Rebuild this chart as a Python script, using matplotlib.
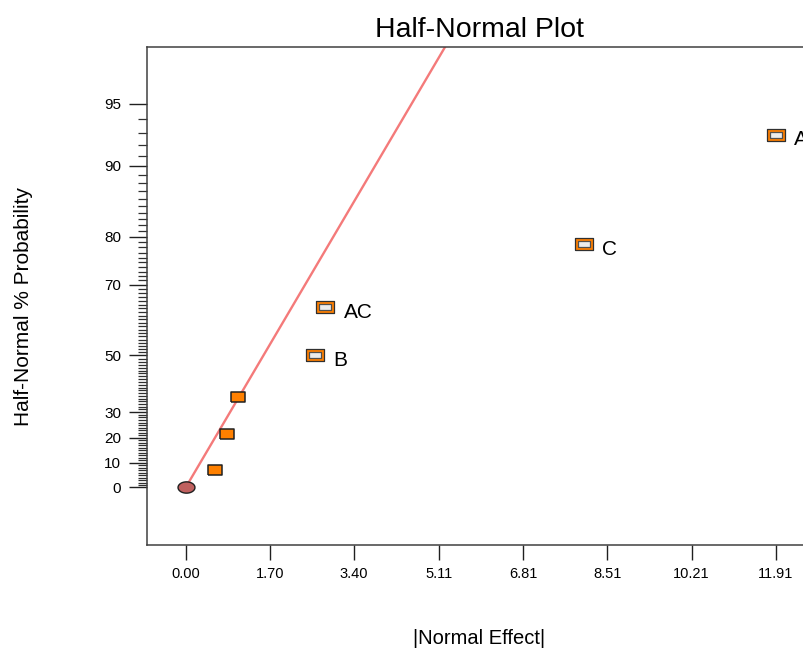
import numpy as np
import matplotlib
matplotlib.use('Agg')
import matplotlib.pyplot as plt
from statistics import NormalDist

plt.rcParams['font.family'] = ['Liberation Sans', 'DejaVu Sans']

# effects (absolute) and half-normal probabilities
effect_size = [0.59, 0.84, 1.06, 2.61, 2.82, 8.03, 11.91]
effect_prob = [7.14, 21.43, 35.71, 50.0, 64.29, 78.57, 92.86]
effect_label = ['', '', '', 'B', 'AC', 'C', 'A']

# origin point and fitted line through the small effects
origin_effect = 0.0
origin_prob = 0.0
fit_effect = [0.0, 6.0]
fit_slope = 0.43   # half-normal quantile per unit effect

x_ticks = [0.00, 1.70, 3.40, 5.11, 6.81, 8.51, 10.21, 11.91]
y_ticks = [0, 10, 20, 30, 50, 70, 80, 90, 95]

nd = NormalDist()


def hn(p):
    # half-normal quantile of a percent probability
    return nd.inv_cdf(0.5 + p / 200.0)


W, H = 804, 648
fig = plt.figure(figsize=(W / 100, H / 100), dpi=100)
ax = fig.add_axes([147 / W, 1 - 545 / H, (W - 147) / W, (545 - 47) / H])

spine_col = '#404040'
orange = '#ff8000'

# fitted line
fz = [fit_slope * e for e in fit_effect]
ax.plot(fit_effect, fz, color='#f47a7a', linewidth=1.7, zorder=2, solid_capstyle='butt')

# rectangular marker shapes (wider than tall)
wide_box = [(-1.45, -1), (1.45, -1), (1.45, 1), (-1.45, 1), (-1.45, -1)]
inner_box = [(-1.7, -1), (1.7, -1), (1.7, 1), (-1.7, 1), (-1.7, -1)]

for e, p, lab in zip(effect_size, effect_prob, effect_label):
    z = hn(p)
    if lab:
        ax.plot(e, z, marker=wide_box, markersize=13, markerfacecolor=orange,
                markeredgecolor='#303030', markeredgewidth=0.9, linestyle='none', zorder=4)
        ax.plot(e, z, marker=inner_box, markersize=8.4, markerfacecolor='#ececec',
                markeredgecolor='#505050', markeredgewidth=0.9, linestyle='none', zorder=5)
        ax.annotate(lab, (e, z), xytext=(13, -3.6), textcoords='offset points',
                    ha='left', va='center', fontsize=15, zorder=6, annotation_clip=False)
    else:
        ax.plot(e, z, marker=wide_box, markersize=10.2, markerfacecolor=orange,
                markeredgecolor='#202020', markeredgewidth=1.1, linestyle='none', zorder=4)

# origin point
ellipse = [(np.cos(t) * 1.5, np.sin(t)) for t in np.linspace(0, 2 * np.pi, 60)]
ax.plot(origin_effect, hn(origin_prob), marker=ellipse, markersize=12.2,
        markerfacecolor='#c0605f', markeredgecolor='#202020', markeredgewidth=1.0,
        linestyle='none', zorder=5)

# axes limits
ax.set_xlim(-0.781, 12.48)
ax.set_ylim(-0.294, 2.251)

ax.set_xticks(x_ticks)
ax.set_xticklabels([f'{v:.2f}' for v in x_ticks])
ax.set_yticks([hn(p) for p in y_ticks])
ax.set_yticklabels([str(p) for p in y_ticks])
minor = [hn(p) for p in range(1, 95) if p not in y_ticks]
ax.set_yticks(minor, minor=True)

ax.tick_params(axis='x', direction='out', length=10.8, width=1.0, pad=5,
               labelsize=10.5, color='#202020')
ax.tick_params(axis='y', which='major', direction='out', length=13, width=1.0, pad=5.5,
               labelsize=11, color='#202020')
ax.tick_params(axis='y', which='minor', direction='out', length=6.5, width=0.9,
               color='#303030')

for s in ['left', 'top', 'bottom']:
    ax.spines[s].set_color(spine_col)
    ax.spines[s].set_linewidth(1.1)
ax.spines['right'].set_visible(False)

fig.text(480 / W, 1 - 30 / H, 'Half-Normal Plot', ha='center', va='center', fontsize=20.5)
fig.text(479 / W, 1 - 638 / H, '|Normal Effect|', ha='center', va='center', fontsize=14.5)
fig.text(24 / W, 1 - 306 / H, 'Half-Normal % Probability', ha='center', va='center',
         rotation=90, fontsize=15)

fig.savefig('out.png', dpi=100)
